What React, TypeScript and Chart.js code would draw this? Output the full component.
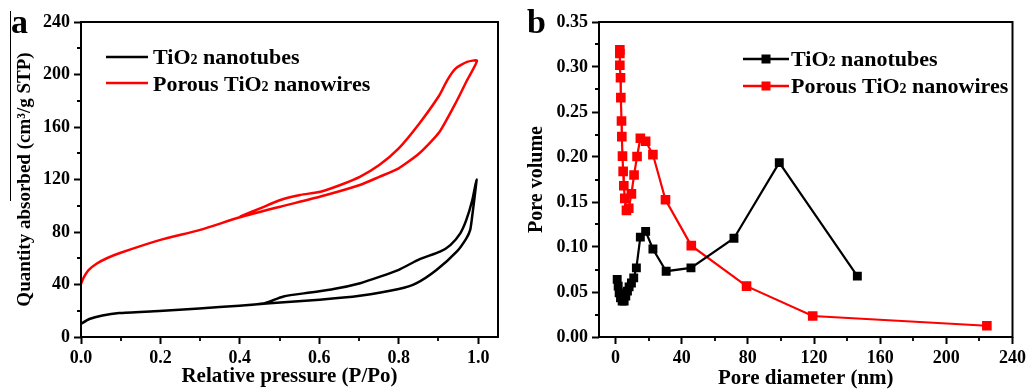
import React, { useEffect, useRef } from 'react';
import { Chart, registerables } from 'chart.js';
Chart.register(...registerables);

const FONT = '"Liberation Serif", "Times New Roman", Times, serif';

// ---------- Panel a: N2 isotherms (adsorption then desorption branch) ----------
const tubesP = [0, 0.021, 0.054, 0.096, 0.197, 0.298, 0.399, 0.475, 0.601, 0.702, 0.8, 0.845, 0.895, 0.946, 0.97, 0.98, 0.985, 0.99, 0.996,
  0.985, 0.97, 0.955, 0.93, 0.904, 0.853, 0.8, 0.753, 0.703, 0.636, 0.577, 0.51, 0.459, 0.4];
const tubesQ = [10, 13.7, 16.4, 18.2, 19.8, 21.8, 23.8, 25.8, 28.4, 31.4, 36.5, 41, 51, 65, 75, 81.6, 92, 104, 120,
  104, 89, 79, 70, 65, 59.3, 51.2, 46, 41, 36.5, 33.9, 30.9, 25.5, 23.8];
const wiresP = [0, 0.006, 0.019, 0.04, 0.065, 0.098, 0.2, 0.3, 0.4, 0.502, 0.603, 0.702, 0.751, 0.8, 0.852, 0.902, 0.947, 0.972, 0.997,
  0.972, 0.943, 0.922, 0.902, 0.852, 0.8, 0.751, 0.702, 0.653, 0.603, 0.552, 0.502, 0.451, 0.4];
const wiresQ = [40.3, 44.9, 51, 56, 60, 64, 74, 81.6, 91.2, 99.3, 107, 115.8, 122, 128.5, 140, 156, 180.4, 195.6, 210.5,
  209.6, 204.5, 195.6, 184, 162.7, 143.7, 131, 122, 115.8, 110.7, 108.2, 104.4, 98, 91.7];

const aXTicks = [0, 0.2, 0.4, 0.6, 0.8, 1.0];
const aXMinor = [0.1, 0.3, 0.5, 0.7, 0.9];
const aYTicks = [0, 40, 80, 120, 160, 200, 240];
const aYMinor = [20, 60, 100, 140, 180, 220];

// ---------- Panel b: pore size distribution ----------
const tubesD = [1.0, 1.6, 2.2, 3.0, 4.0, 5.2, 6.2, 7.2, 8.2, 9.6, 11, 12.6, 15, 18.2, 22.6, 30.6, 45.6, 71.6, 99, 146.2];
const tubesV = [0.064, 0.0565, 0.049, 0.0436, 0.040, 0.040, 0.0454, 0.051, 0.0557, 0.060, 0.0657, 0.0768, 0.111, 0.1174, 0.0978, 0.0731, 0.0768, 0.1097, 0.1938, 0.0676];
const wiresD = [2.6, 2.6, 2.6, 3.0, 3.2, 3.6, 3.8, 4.2, 4.6, 5.0, 5.6, 6.6, 8.0, 9.6, 11.2, 13.0, 15.0, 18.2, 22.6, 30.2, 45.8, 79.2, 119.2, 224.5];
const wiresV = [0.319, 0.315, 0.302, 0.288, 0.266, 0.240, 0.2226, 0.201, 0.184, 0.168, 0.154, 0.1407, 0.143, 0.159, 0.180, 0.2005, 0.2208, 0.2175, 0.2027, 0.1525, 0.1015, 0.0565, 0.0233, 0.0125];

const bXTicks = [0, 40, 80, 120, 160, 200, 240];
const bXMinor = [20, 60, 100, 140, 180, 220];
const bYTicks = [0, 0.05, 0.1, 0.15, 0.2, 0.25, 0.3, 0.35];
const bYMinor = [0.025, 0.075, 0.125, 0.175, 0.225, 0.275, 0.325];

const legendNames = ['nanotubes', 'Porous '];
const BLACK = '#000000';
const RED = '#ff0000';

type LegendItem = { color: string; pre: string; post: string; marker: boolean };

function decorPlugin(opts: {
  xMinor: number[]; yMinor: number[];
  legend: LegendItem[]; lx0: number; lx1: number; tx: number; rows: number[]; baselines: number[];
}) {
  return {
    id: 'decor',
    afterDraw(chart: any) {
      const { ctx, chartArea: ca } = chart;
      const xs = chart.scales.x, ys = chart.scales.y;
      ctx.save();
      ctx.strokeStyle = '#000';
      ctx.lineWidth = 2;
      ctx.strokeRect(ca.left, ca.top, ca.right - ca.left, ca.bottom - ca.top);
      ctx.lineWidth = 1.8;
      ctx.beginPath();
      for (const v of opts.xMinor) {
        const px = Math.round(xs.getPixelForValue(v));
        ctx.moveTo(px, ca.bottom);
        ctx.lineTo(px, ca.bottom + 4);
      }
      for (const v of opts.yMinor) {
        const py = Math.round(ys.getPixelForValue(v));
        ctx.moveTo(ca.left, py);
        ctx.lineTo(ca.left - 4, py);
      }
      ctx.stroke();
      // legend
      opts.legend.forEach((it, i) => {
        const y = ca.top + opts.rows[i];
        ctx.strokeStyle = it.color;
        ctx.lineWidth = 2.5;
        ctx.beginPath();
        ctx.moveTo(ca.left + opts.lx0, y);
        ctx.lineTo(ca.left + opts.lx1, y);
        ctx.stroke();
        if (it.marker) {
          ctx.fillStyle = it.color;
          const mx = ca.left + (opts.lx0 + opts.lx1) / 2;
          ctx.fillRect(mx - 4.5, y - 4.5, 9, 9);
        }
        ctx.fillStyle = '#000';
        ctx.textBaseline = 'alphabetic';
        const by = ca.top + opts.baselines[i];
        let x = ca.left + opts.tx;
        ctx.font = `bold 22px ${FONT}`;
        const first = it.pre + 'TiO';
        ctx.fillText(first, x, by);
        x += ctx.measureText(first).width;
        ctx.font = `bold 14px ${FONT}`;
        ctx.fillText('2', x, by);
        x += ctx.measureText('2').width;
        ctx.font = `bold 22px ${FONT}`;
        ctx.fillText(it.post, x, by);
      });
      ctx.restore();
    },
  };
}

function axisCfg(o: {
  min: number; max: number; ticks: number[]; digits: number; title: string; size: number;
  fitW?: number; fitH?: number; titlePad: any;
}) {
  return {
    type: 'linear',
    min: o.min,
    max: o.max,
    afterBuildTicks: (s: any) => { s.ticks = o.ticks.map((v) => ({ value: v })); },
    afterFit: (s: any) => {
      if (o.fitW !== undefined) s.width = o.fitW;
      if (o.fitH !== undefined) s.height = o.fitH;
    },
    grid: { display: true, drawOnChartArea: false, drawTicks: true, tickLength: 7, tickWidth: 2, tickColor: '#000', color: '#000' },
    border: { display: false },
    ticks: {
      color: '#000',
      padding: 4,
      maxRotation: 0,
      autoSkip: false,
      font: { family: FONT, size: 18, weight: 'bold' },
      callback: (v: any) => Number(v).toFixed(o.digits),
    },
    title: {
      display: true,
      text: o.title,
      color: '#000',
      font: { family: FONT, size: o.size, weight: 'bold', lineHeight: 1.2 },
      padding: o.titlePad,
    },
  };
}

function useChart(ref: React.RefObject<HTMLCanvasElement>, make: () => any) {
  useEffect(() => {
    if (!ref.current) return;
    const chart = new Chart(ref.current, make());
    return () => chart.destroy();
  }, []);
}

export default function App() {
  const aRef = useRef<HTMLCanvasElement>(null);
  const bRef = useRef<HTMLCanvasElement>(null);

  useChart(aRef, () => ({
    type: 'line',
    data: {
      datasets: [
        {
          label: 'TiO2 ' + legendNames[0],
          data: tubesP.map((p, i) => ({ x: p, y: tubesQ[i] })),
          borderColor: BLACK, borderWidth: 2.5, pointRadius: 0, tension: 0.2, fill: false,
        },
        {
          label: legendNames[1] + 'TiO2 nanowires',
          data: wiresP.map((p, i) => ({ x: p, y: wiresQ[i] })),
          borderColor: RED, borderWidth: 2.5, pointRadius: 0, tension: 0.2, fill: false,
        },
      ],
    },
    options: {
      animation: false,
      responsive: false,
      devicePixelRatio: 1,
      events: [],
      layout: { padding: { left: 0, top: 22, right: 17, bottom: 0 } },
      plugins: { legend: { display: false }, tooltip: { enabled: false } },
      scales: {
        x: axisCfg({ min: 0, max: 1.05, ticks: aXTicks, digits: 1, title: 'Relative pressure (P/Po)', size: 21, fitH: 54, titlePad: { top: 0, bottom: 2 } }),
        y: axisCfg({ min: 0, max: 240, ticks: aYTicks, digits: 0, title: 'Quantity absorbed (cm³/g STP)', size: 19, fitW: 81, titlePad: { top: 14, bottom: 0 } }),
      },
    },
    plugins: [decorPlugin({
      xMinor: aXMinor, yMinor: aYMinor,
      legend: [
        { color: BLACK, pre: '', post: ' nanotubes', marker: false },
        { color: RED, pre: 'Porous ', post: ' nanowires', marker: false },
      ],
      lx0: 25, lx1: 67, tx: 72, rows: [35, 61], baselines: [41.5, 68.5],
    })],
  }));

  useChart(bRef, () => ({
    type: 'line',
    data: {
      datasets: [
        {
          label: 'TiO2 nanotubes',
          data: tubesD.map((d, i) => ({ x: d, y: tubesV[i] })),
          borderColor: BLACK, backgroundColor: BLACK, borderWidth: 2.2,
          pointStyle: 'rect', pointRadius: 6.3, pointBorderWidth: 0, pointBackgroundColor: BLACK, tension: 0, fill: false,
        },
        {
          label: 'Porous TiO2 nanowires',
          data: wiresD.map((d, i) => ({ x: d, y: wiresV[i] })),
          borderColor: RED, backgroundColor: RED, borderWidth: 2.2,
          pointStyle: 'rect', pointRadius: 6.8, pointBorderWidth: 0, pointBackgroundColor: RED, tension: 0, fill: false,
        },
      ],
    },
    options: {
      animation: false,
      responsive: false,
      devicePixelRatio: 1,
      events: [],
      layout: { padding: { left: 0, top: 22, right: 15, bottom: 0 } },
      plugins: { legend: { display: false }, tooltip: { enabled: false } },
      scales: {
        x: axisCfg({ min: -10, max: 240, ticks: bXTicks, digits: 0, title: 'Pore diameter (nm)', size: 21, fitH: 54, titlePad: { top: 0, bottom: 0 } }),
        y: axisCfg({ min: 0, max: 0.35, ticks: bYTicks, digits: 2, title: 'Pore volume', size: 20, fitW: 84, titlePad: { top: 10, bottom: 0 } }),
      },
    },
    plugins: [decorPlugin({
      xMinor: bXMinor, yMinor: bYMinor,
      legend: [
        { color: BLACK, pre: '', post: ' nanotubes', marker: true },
        { color: RED, pre: 'Porous ', post: ' nanowires', marker: true },
      ],
      lx0: 144, lx1: 190, tx: 192, rows: [37, 64], baselines: [43.5, 70.5],
    })],
  }));

  const labelStyle: React.CSSProperties = {
    position: 'absolute', fontFamily: FONT, fontWeight: 'bold', fontSize: 34, lineHeight: '34px', color: '#000',
  };

  return (
    <div style={{ position: 'absolute', left: 0, top: 0, width: 1030, height: 391, background: '#fff', overflow: 'hidden' }}>
      <canvas ref={aRef} width={515} height={391} style={{ position: 'absolute', left: 0, top: 0 }} />
      <canvas ref={bRef} width={515} height={391} style={{ position: 'absolute', left: 515, top: 0 }} />
      <div style={{ position: 'absolute', left: 10, top: 11, width: 1, height: 190, background: '#000' }} />
      <div style={{ ...labelStyle, left: 11, top: 5 }}>a</div>
      <div style={{ ...labelStyle, left: 527, top: 5 }}>b</div>
    </div>
  );
}
